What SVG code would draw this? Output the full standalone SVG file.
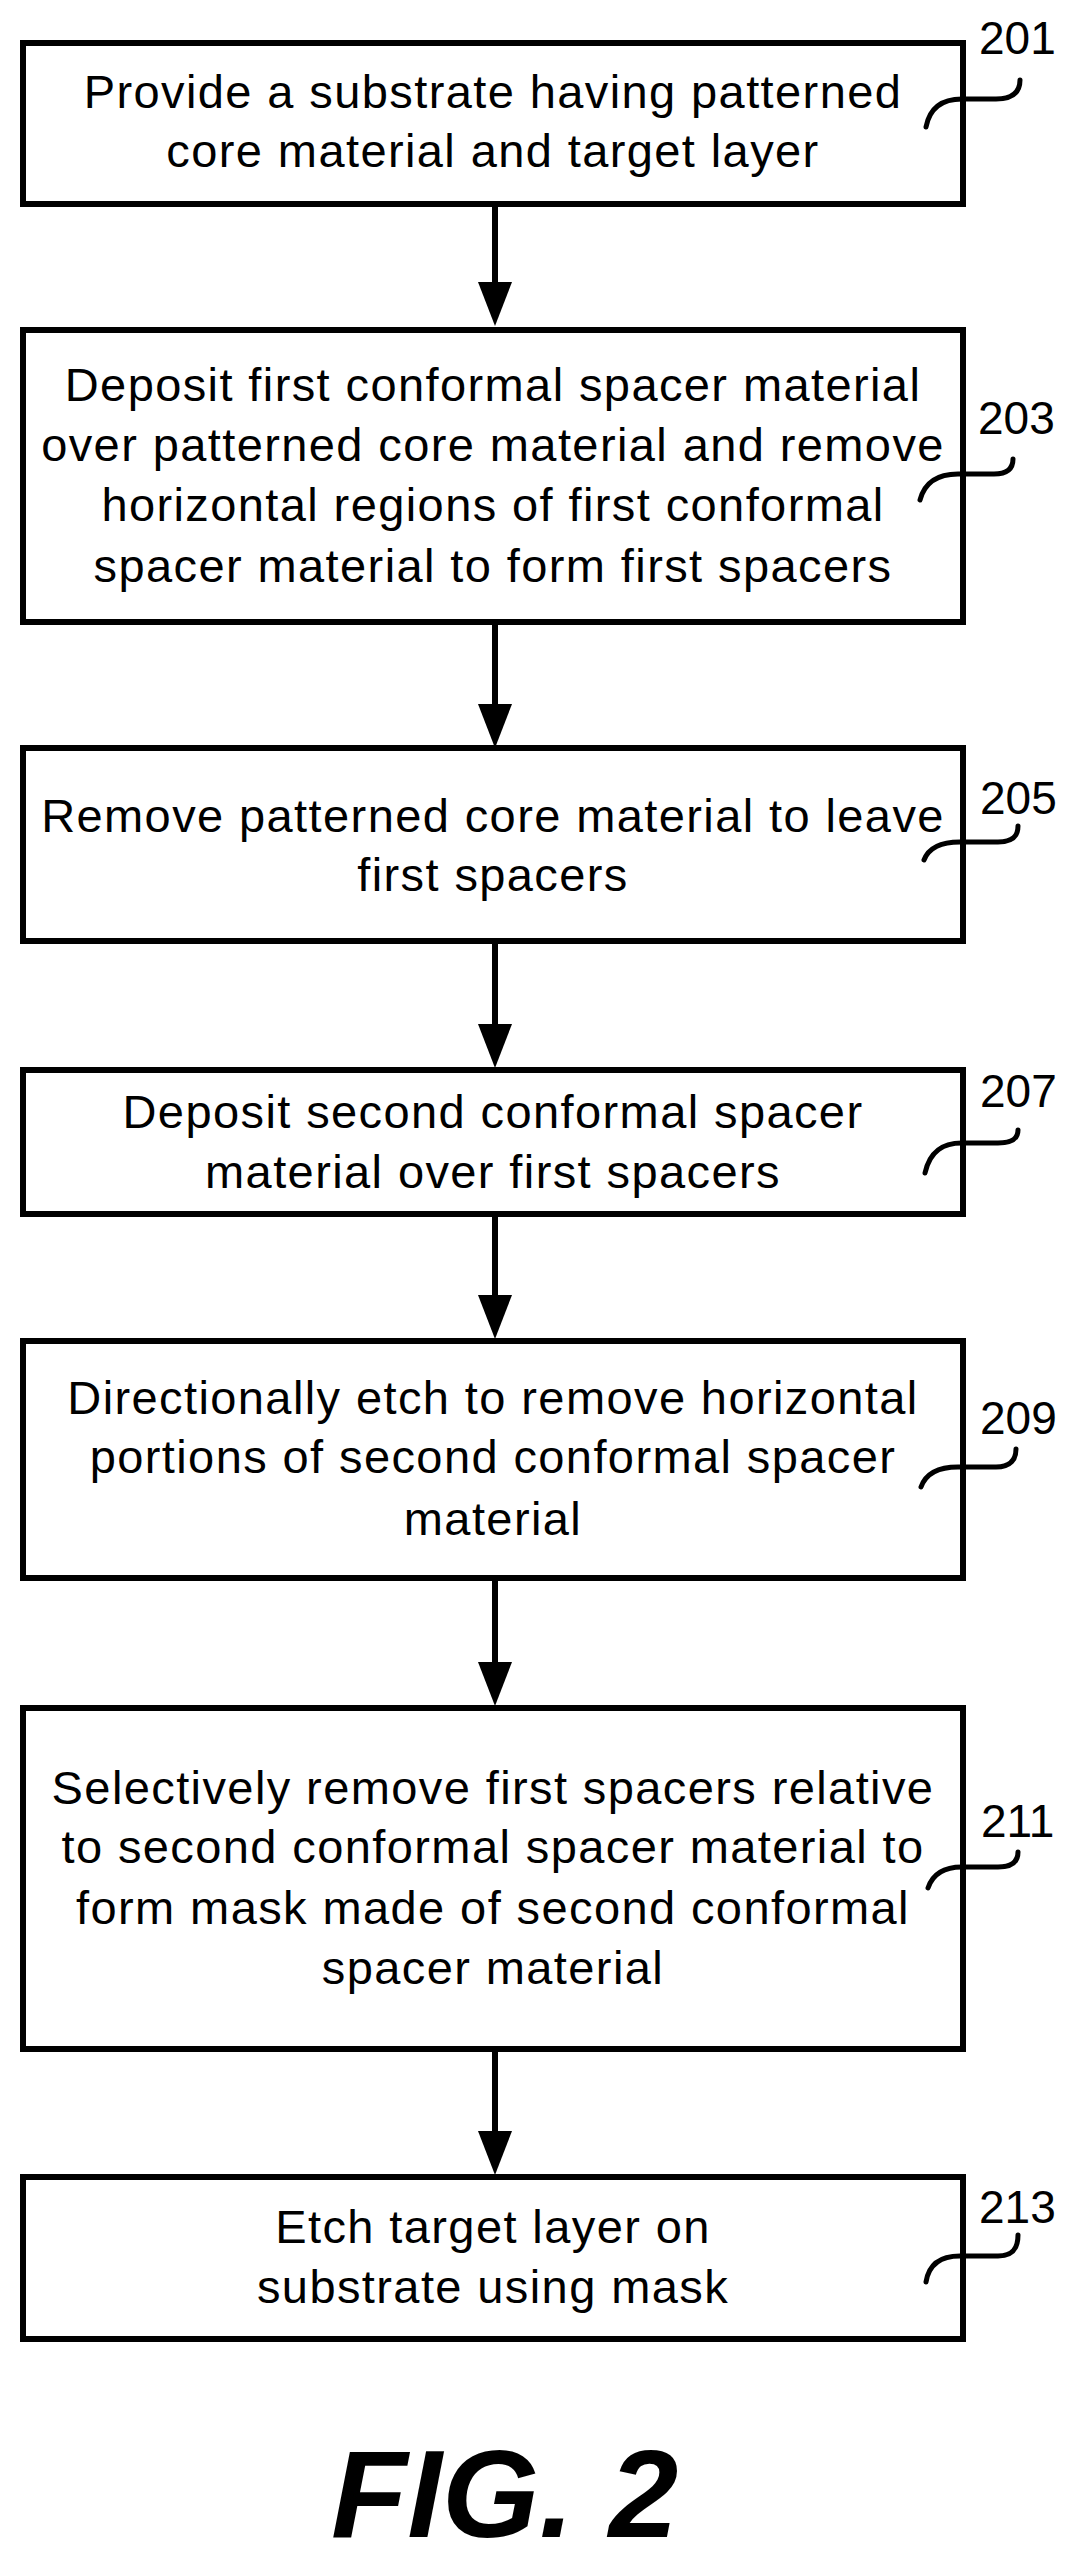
<svg xmlns="http://www.w3.org/2000/svg" width="1079" height="2561" viewBox="0 0 1079 2561">
<defs>
<style>
.box{fill:#fff;stroke:#000;stroke-width:6}
.t{font-family:"Liberation Sans",Arial,sans-serif;font-size:47px;letter-spacing:1.4px;text-anchor:middle;fill:#000}
.lbl{font-family:"Liberation Sans",Arial,sans-serif;font-size:46px;fill:#000}
.ld{fill:none;stroke:#000;stroke-width:5;stroke-linecap:round}
.c{stroke:#000;stroke-width:6;fill:none}
</style>
</defs>
<rect width="1079" height="2561" fill="#fff"/>
<g id="connectors">
<path class="c" d="M495,204 V282"/><path d="M478,282 H512 L495,326 Z"/>
<path class="c" d="M495,622 V704"/><path d="M478,704 H512 L495,748 Z"/>
<path class="c" d="M495,941 V1024"/><path d="M478,1024 H512 L495,1068 Z"/>
<path class="c" d="M495,1214 V1295"/><path d="M478,1295 H512 L495,1339 Z"/>
<path class="c" d="M495,1578 V1662"/><path d="M478,1662 H512 L495,1706 Z"/>
<path class="c" d="M495,2049 V2131"/><path d="M478,2131 H512 L495,2175 Z"/>
</g>
<g id="n201">
<rect class="box" x="23" y="43" width="940" height="161"/>
<text class="t" x="493" y="108">Provide a substrate having patterned</text>
<text class="t" x="493" y="167">core material and target layer</text>
<text class="lbl" x="979" y="54">201</text>
<path class="ld" d="M926,127 C930,106 944,99 962,99 L996,99 C1013,99 1020,92 1020,80"/>
</g>
<g id="n203">
<rect class="box" x="23" y="330" width="940" height="292"/>
<text class="t" x="493" y="401">Deposit first conformal spacer material</text>
<text class="t" x="493" y="461">over patterned core material and remove</text>
<text class="t" x="493" y="521">horizontal regions of first conformal</text>
<text class="t" x="493" y="582">spacer material to form first spacers</text>
<text class="lbl" x="978" y="434">203</text>
<path class="ld" d="M920,500 C925,481 940,474 958,474 L994,474 C1008,474 1013,468 1013,459"/>
</g>
<g id="n205">
<rect class="box" x="23" y="748" width="940" height="193"/>
<text class="t" x="493" y="832">Remove patterned core material to leave</text>
<text class="t" x="493" y="891">first spacers</text>
<text class="lbl" x="980" y="814">205</text>
<path class="ld" d="M924,860 C929,847 943,842 960,842 L998,842 C1013,842 1018,836 1018,826"/>
</g>
<g id="n207">
<rect class="box" x="23" y="1070" width="940" height="144"/>
<text class="t" x="493" y="1128">Deposit second conformal spacer</text>
<text class="t" x="493" y="1188">material over first spacers</text>
<text class="lbl" x="980" y="1107">207</text>
<path class="ld" d="M925,1173 C930,1150 944,1143 962,1143 L998,1143 C1013,1143 1018,1138 1018,1130"/>
</g>
<g id="n209">
<rect class="box" x="23" y="1341" width="940" height="237"/>
<text class="t" x="493" y="1414">Directionally etch to remove horizontal</text>
<text class="t" x="493" y="1473">portions of second conformal spacer</text>
<text class="t" x="493" y="1535">material</text>
<text class="lbl" x="980" y="1434">209</text>
<path class="ld" d="M921,1487 C926,1473 940,1467 958,1467 L996,1467 C1011,1467 1016,1459 1016,1449"/>
</g>
<g id="n211">
<rect class="box" x="23" y="1708" width="940" height="341"/>
<text class="t" x="493" y="1804">Selectively remove first spacers relative</text>
<text class="t" x="493" y="1863">to second conformal spacer material to</text>
<text class="t" x="493" y="1924">form mask made of second conformal</text>
<text class="t" x="493" y="1984">spacer material</text>
<text class="lbl" x="981" y="1837">211</text>
<path class="ld" d="M928,1888 C933,1873 946,1867 962,1867 L998,1867 C1013,1867 1018,1861 1018,1852"/>
</g>
<g id="n213">
<rect class="box" x="23" y="2177" width="940" height="162"/>
<text class="t" x="493" y="2243">Etch target layer on</text>
<text class="t" x="493" y="2303">substrate using mask</text>
<text class="lbl" x="979" y="2223">213</text>
<path class="ld" d="M926,2282 C929,2263 942,2256 960,2256 L998,2256 C1013,2256 1018,2248 1018,2235"/>
</g>
<text x="331" y="2537" font-family="'Liberation Sans',Arial,sans-serif" font-size="125" font-weight="bold" font-style="italic" fill="#000">FIG. 2</text>
</svg>
